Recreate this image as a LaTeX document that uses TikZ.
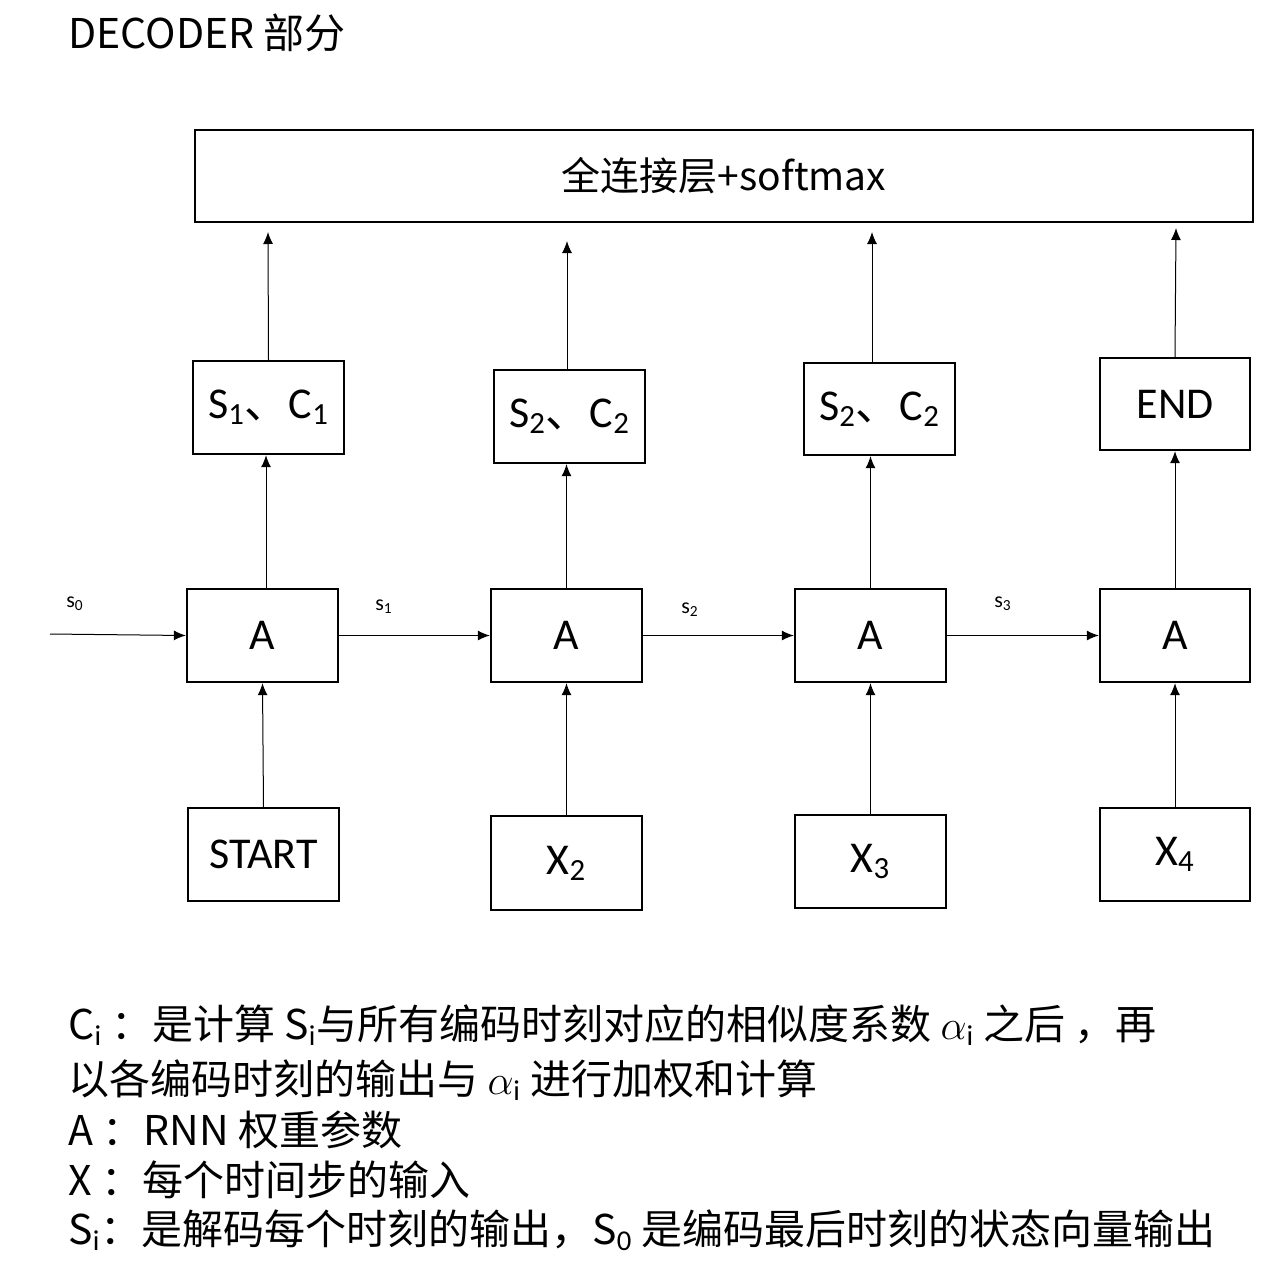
\documentclass[tikz,border=0pt]{standalone}
\usepackage{fontspec}
\setmainfont{Carlito}
\newfontfamily\cjk{Noto Sans CJK SC}
\usetikzlibrary{arrows.meta}
\begin{document}
\begin{tikzpicture}[x=0.5pt,y=-0.5pt,
  bx/.style={draw,line width=1.2pt,inner sep=0},
  ar/.style={-{Latex[length=6pt,width=5pt]},line width=0.5pt},
  lb/.style={font=\fontsize{22}{24}\selectfont},
  txt/.style={anchor=west,font=\cjk\fontsize{20.5}{22}\selectfont,inner sep=0}]
\useasboundingbox (0,0) rectangle (1276,1270);
\node[anchor=west,font=\cjk\fontsize{20.5}{22}\selectfont,inner sep=0] (title) at (68,33) {DECODER 部分};
\draw[line width=1.2pt] (195,130) rectangle (1253,222);
\node[font=\cjk\fontsize{19.5}{22}\selectfont] (fc) at (724,176) {全连接层+softmax};
\coordinate (t1) at (268,232);\coordinate (t2) at (567,241);\coordinate (t3) at (872,232);\coordinate (t4) at (1176,228);
\node[bx,minimum width=75.5pt,minimum height=46.5pt,lb] (u1) at (268.5,407.5) {S$_{\mathrm 1}${\cjk 、}C$_{\mathrm 1}$};
\node[bx,minimum width=75.5pt,minimum height=46.5pt,lb] (u2) at (569.5,416.5) {S$_{\mathrm 2}${\cjk 、}C$_{\mathrm 2}$};
\node[bx,minimum width=75.5pt,minimum height=46pt,lb] (u3) at (879.5,409) {S$_{\mathrm 2}${\cjk 、}C$_{\mathrm 2}$};
\node[bx,minimum width=75pt,minimum height=46pt,lb] (u4) at (1175,404) {END};
\node[bx,minimum width=75.5pt,minimum height=46.5pt,lb] (a1) at (262.5,635.5) {A};
\node[bx,minimum width=75.5pt,minimum height=46.5pt,lb] (a2) at (566.5,635.5) {A};
\node[bx,minimum width=75.5pt,minimum height=46.5pt,lb] (a3) at (870.5,635.5) {A};
\node[bx,minimum width=75pt,minimum height=46.5pt,lb] (a4) at (1175,635.5) {A};
\node[bx,minimum width=75.5pt,minimum height=46.5pt,lb] (b1) at (263.5,854.5) {START};
\node[bx,minimum width=75.5pt,minimum height=47pt,lb] (b2) at (566.5,863) {X$_{\mathrm 2}$};
\node[bx,minimum width=75.5pt,minimum height=46.5pt,lb] (b3) at (870.5,861.5) {X$_{\mathrm 3}$};
\node[bx,minimum width=75pt,minimum height=46.5pt,lb] (b4) at (1175,854.5) {X$_{\mathrm 4}$};
\draw[ar] (u1.north) -- (t1);
\draw[ar] (u2.north -| t2) -- (t2);
\draw[ar] (u3.north -| t3) -- (t3);
\draw[ar] (u4.north) -- (t4);
\draw[ar] (a1.north -| 266,0) -- (u1.south -| 266,0);
\draw[ar] (a2.north) -- (u2.south -| a2.north);
\draw[ar] (a3.north) -- (u3.south -| a3.north);
\draw[ar] (a4.north) -- (u4.south);
\draw[ar] (b1.north) -- (a1.south);
\draw[ar] (b2.north) -- (a2.south);
\draw[ar] (b3.north) -- (a3.south);
\draw[ar] (b4.north) -- (a4.south);
\coordinate (s0) at (50,634);
\draw[ar] (s0) -- (a1.west);
\draw[ar] (a1.east) -- (a2.west);
\draw[ar] (a2.east) -- (a3.west);
\draw[ar] (a3.east) -- (a4.west);
\node[font=\fontsize{11}{12}\selectfont] (l0) at (75,604) {s$_{\mathrm 0}$};
\node[font=\fontsize{11}{12}\selectfont] (l1) at (384,607) {s$_{\mathrm 1}$};
\node[font=\fontsize{11}{12}\selectfont] (l2) at (690,610) {s$_{\mathrm 2}$};
\node[font=\fontsize{11}{12}\selectfont] (l3) at (1003,604) {s$_{\mathrm 3}$};
\node[txt] (x1) at (68,1025) {C$_{\mathrm i}$ ：是计算 S$_{\mathrm i}$与所有编码时刻对应的相似度系数 $\alpha_{\mathrm i}$ 之后 ，再};
\node[txt] (x2) at (68,1080) {以各编码时刻的输出与 $\alpha_{\mathrm i}$ 进行加权和计算};
\node[txt] (x3) at (68,1130) {A ：RNN 权重参数};
\node[txt] (x4) at (68,1180) {X ：每个时间步的输入};
\node[txt] (x5) at (68,1230) {S$_{\mathrm i}$：是解码每个时刻的输出，S$_{\mathrm 0}$ 是编码最后时刻的状态向量输出};
\end{tikzpicture}
\end{document}
